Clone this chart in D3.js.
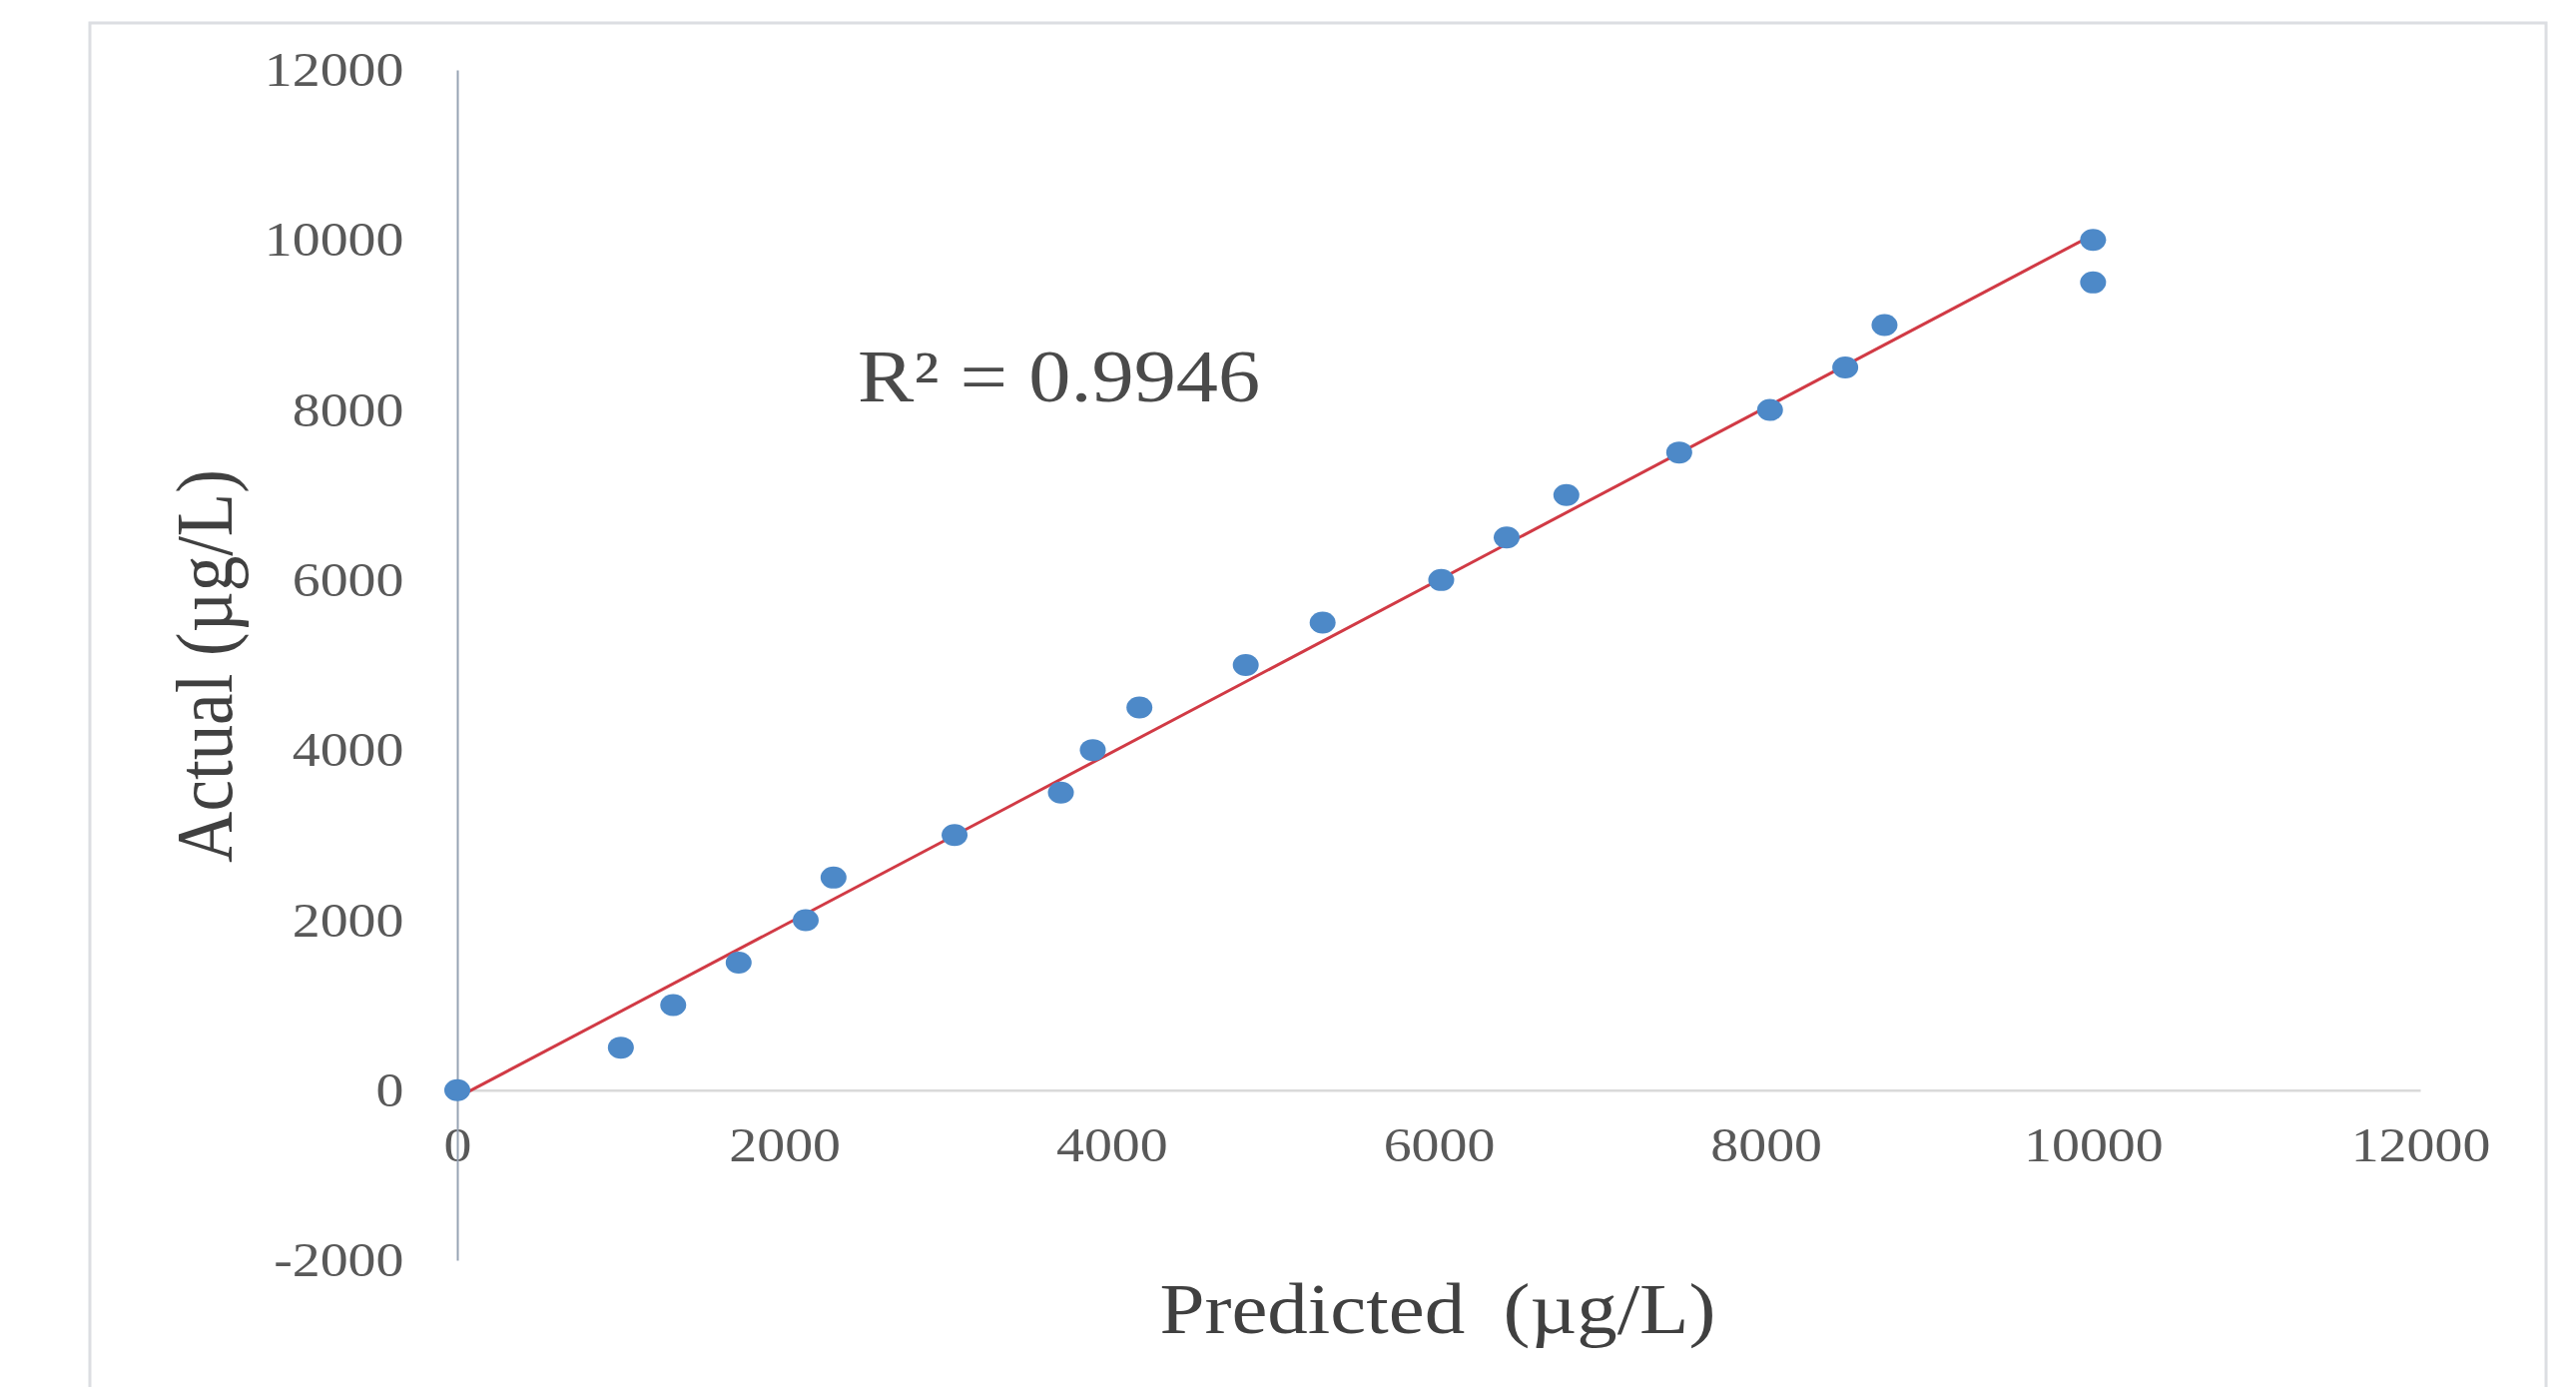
<!DOCTYPE html>
<html>
<head>
<meta charset="utf-8">
<script src="https://cdn.jsdelivr.net/npm/d3@7"></script>
<style>
    body { margin: 0; background: #fff; }
    svg text { font-family: "Liberation Serif", "Times New Roman", serif; }
</style>
</head>
<body>
<div id="chart"></div>
<script>
// data
const predicted = [0, 1000, 1320, 1720, 2130, 2300, 3040, 3690, 3885, 4170, 4820, 5290, 6015, 6415, 6780, 7470, 8025, 8485, 8725, 10000, 10000];
const actual    = [0, 500, 1000, 1500, 2000, 2500, 3000, 3500, 4000, 4500, 5000, 5500, 6000, 6500, 7000, 7500, 8000, 8500, 9000, 10000, 9500];
const xTicks = [0, 2000, 4000, 6000, 8000, 10000, 12000];
const yTicks = [-2000, 0, 2000, 4000, 6000, 8000, 10000, 12000];
const r2Label = 'R² = 0.9946';
const xTitle = 'Predicted (µg/L)';
const yTitle = 'Actual (µg/L)';

const W = 2580, H = 1389;
const stretch = 1.14; // source picture is a bit wider than tall

const svg = d3.select('#chart')
    .append('svg')
    .attr('width', W)
    .attr('height', H);

// chart area frame
svg.append('rect')
    .attr('x', 90)
    .attr('y', 23)
    .attr('width', 2460)
    .attr('height', H + 20)
    .attr('fill', '#fff')
    .attr('stroke', '#dcdee2')
    .attr('stroke-width', 3);

// Scales
const x = d3.scaleLinear().domain([0, 12000]).range([458, 2424]);
const y = d3.scaleLinear().domain([-2000, 12000]).range([1262, 70]);

// X axis at y = 0
const xAxis = svg.append('g')
    .attr('transform', `translate(0,${y(0)})`)
    .call(d3.axisBottom(x)
        .tickValues(xTicks)
        .tickSize(0)
        .tickSizeOuter(0)
        .tickPadding(36)
        .tickFormat(d => d));
xAxis.select('.domain').attr('stroke', '#d9d9d9').attr('stroke-width', 2.5);

// Y axis at x = 0
const yAxis = svg.append('g')
    .attr('transform', `translate(${x(0)},0)`)
    .call(d3.axisLeft(y)
        .tickValues(yTicks)
        .tickSize(0)
        .tickSizeOuter(0)
        .tickPadding(47)
        .tickFormat(d => d));
yAxis.select('.domain').attr('stroke', '#97a3b4').attr('stroke-width', 2);

svg.selectAll('.tick text')
    .attr('fill', '#595959')
    .style('font-size', '49px')
    .attr('transform', `scale(${stretch},1)`);

// Trend line (least squares)
const mx = d3.mean(predicted), my = d3.mean(actual);
const slope = d3.sum(predicted, (v, i) => (v - mx) * (actual[i] - my)) /
    d3.sum(predicted, v => (v - mx) * (v - mx));
const intercept = my - slope * mx;
const xr = d3.extent(predicted);

svg.append('line')
    .attr('x1', x(xr[0]))
    .attr('y1', y(intercept + slope * xr[0]))
    .attr('x2', x(xr[1]))
    .attr('y2', y(intercept + slope * xr[1]))
    .attr('stroke', '#d13a45')
    .attr('stroke-width', 3);

// Points
svg.selectAll('ellipse.pt')
    .data(predicted.map((p, i) => ({p: p, a: actual[i]})))
    .enter()
    .append('ellipse')
    .attr('class', 'pt')
    .attr('cx', d => x(d.p))
    .attr('cy', d => y(d.a))
    .attr('rx', 13)
    .attr('ry', 11)
    .attr('fill', '#4d89c8');

// stretched text helper
function label(px, py, str, size, anchor, rot, fill) {
    const g = svg.append('g')
        .attr('transform', `translate(${px},${py}) scale(${stretch},1)` + (rot ? ` rotate(${rot})` : ''));
    return g.append('text')
        .attr('text-anchor', anchor)
        .attr('fill', fill)
        .style('font-size', size + 'px')
        .text(str);
}

label(859, 402, r2Label, 74, 'start', 0, '#4a4a4a');
label(1440, 1335, xTitle, 71, 'middle', 0, '#404040').style('word-spacing', '16px');
label(232, 667, yTitle, 71, 'middle', -90, '#404040');
</script>
</body>
</html>
